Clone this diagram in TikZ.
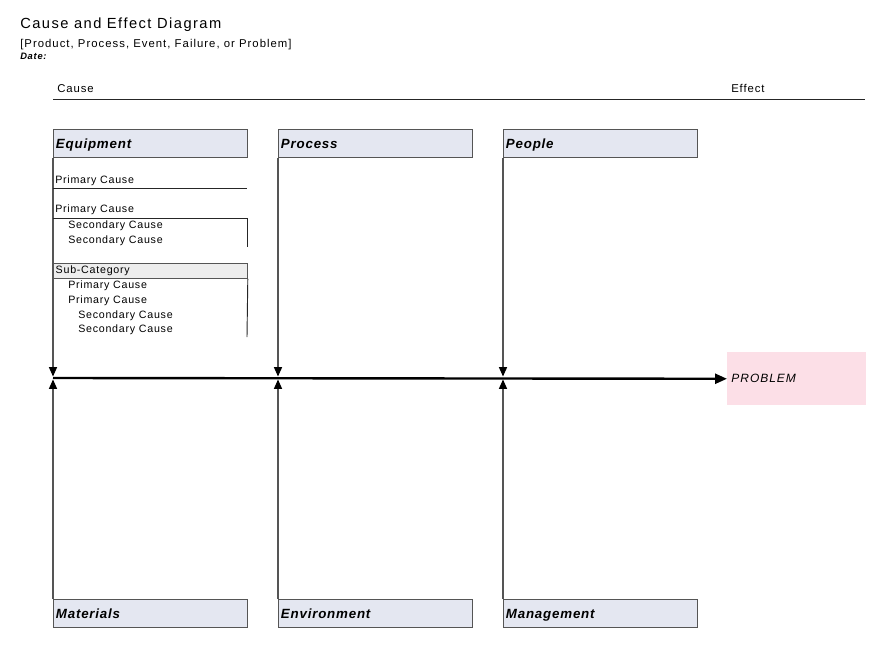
\documentclass[tikz,border=0pt]{standalone}
\usepackage{fontspec}
\setmainfont{Liberation Sans}
\usetikzlibrary{arrows.meta}
\definecolor{boxfill}{HTML}{E4E7F1}
\definecolor{subfill}{HTML}{EDEDED}
\definecolor{probfill}{HTML}{FCDFE7}
\definecolor{linegray}{HTML}{555555}
\newcommand{\smallfont}{\fontsize{8}{9}\selectfont\addfontfeature{LetterSpace=7}}
\tikzset{
  px/.style={x=0.75pt,y=-0.75pt},
  catbox/.style={draw=linegray, line width=0.9pt, fill=boxfill, anchor=north west,
    minimum width=145.5pt, minimum height=21pt, text width=142pt, inner sep=1.5pt,
    text height=8.8pt, text depth=2pt,
    align=left, font=\fontsize{10}{11}\selectfont\bfseries\itshape\addfontfeature{LetterSpace=6}},
  subbox/.style={draw=linegray, line width=0.6pt, fill=subfill, anchor=north west,
    minimum width=145.5pt, minimum height=11.25pt, text width=142pt, inner sep=1.2pt,
    text height=6.2pt, text depth=1.6pt,
    align=left, font=\smallfont},
  small/.style={anchor=base west, inner sep=0pt, font=\smallfont},
  catarrow/.style={draw=linegray, line width=1pt, -{Triangle[length=7pt,width=6pt,color=black]}},
  spinearrow/.style={draw=black, line width=1.8pt, -{Triangle[length=9pt,width=7.5pt]}},
  thinrule/.style={draw=black!85, line width=0.7pt},
}
\begin{document}
\begin{tikzpicture}[px]
\useasboundingbox (0,0) rectangle (886,664);
% header
\node[anchor=base west, inner sep=0pt, font=\fontsize{11}{12}\selectfont\addfontfeature{LetterSpace=10}] (title) at (20,28) {Cause and Effect Diagram};
\node[anchor=base west, inner sep=0pt, font=\fontsize{8.5}{9}\selectfont\addfontfeature{LetterSpace=9}] (sub) at (20,47.5) {[Product, Process, Event, Failure, or Problem]};
\node[anchor=base west, inner sep=0pt, font=\fontsize{7}{8}\selectfont\bfseries\itshape\addfontfeature{LetterSpace=8}] (date) at (20,59) {Date:};
\node[anchor=base west, inner sep=0pt, font=\fontsize{8.5}{9}\selectfont\addfontfeature{LetterSpace=8}] (cause) at (57,92) {Cause};
\node[anchor=base west, inner sep=0pt, font=\fontsize{8.5}{9}\selectfont\addfontfeature{LetterSpace=8}] (effect) at (731,92) {Effect};
\coordinate (ruleL) at (53,99);
\coordinate (ruleR) at (865,99);
\draw[thinrule] (ruleL) -- (ruleR);

% category boxes
\node[catbox] (equip) at (53,129) {Equipment};
\node[catbox] (proc) at (278,129) {Process};
\node[catbox] (people) at (503,129) {People};
\node[catbox] (mat) at (53,599) {Materials};
\node[catbox] (env) at (278,599) {Environment};
\node[catbox] (mgmt) at (503,599) {Management};

% problem
\node[fill=probfill, anchor=north west, minimum width=104.25pt, minimum height=39.75pt,
  text width=98pt, inner sep=3pt, align=left,
  font=\fontsize{9}{10}\selectfont\itshape\addfontfeature{LetterSpace=8}] (problem) at (727,352) {PROBLEM};

% spine
\coordinate (spineL) at (53,378);
\draw[spinearrow] (spineL) -- (problem.west);

% arrows to spine
\foreach \n/\x in {equip/53,proc/278,people/503}{
  \coordinate (\n-end) at (\x,376.5);
  \draw[catarrow] (\n.south west) -- (\n-end);
}
\foreach \n/\x in {mat/53,env/278,mgmt/503}{
  \coordinate (\n-end) at (\x,379.5);
  \draw[catarrow] (\n.north west) -- (\n-end);
}

% equipment example content
\node[small] (pc1) at (55,183) {Primary Cause};
\coordinate (pc1L) at (53,188);
\coordinate (pc1R) at (247,188);
\draw[thinrule] (pc1L) -- (pc1R);

\node[small] (pc2) at (55,212) {Primary Cause};
\coordinate (br1L) at (53,218);
\coordinate (br1R) at (247,218);
\coordinate (br1B) at (247,247);
\draw[thinrule] (br1L) -- (br1R) -- (br1B);
\node[small] (sc1) at (68,228) {Secondary Cause};
\node[small] (sc2) at (68,243) {Secondary Cause};

\node[subbox] (subcat) at (53,263) {Sub-Category};
\coordinate (br2B) at (247,337);
\draw[thinrule] (subcat.south east) -- (br2B);
\node[small] (pc3) at (68,288) {Primary Cause};
\node[small] (pc4) at (68,303) {Primary Cause};
\node[small] (sc3) at (78,318) {Secondary Cause};
\node[small] (sc4) at (78,332) {Secondary Cause};
\end{tikzpicture}
\end{document}
